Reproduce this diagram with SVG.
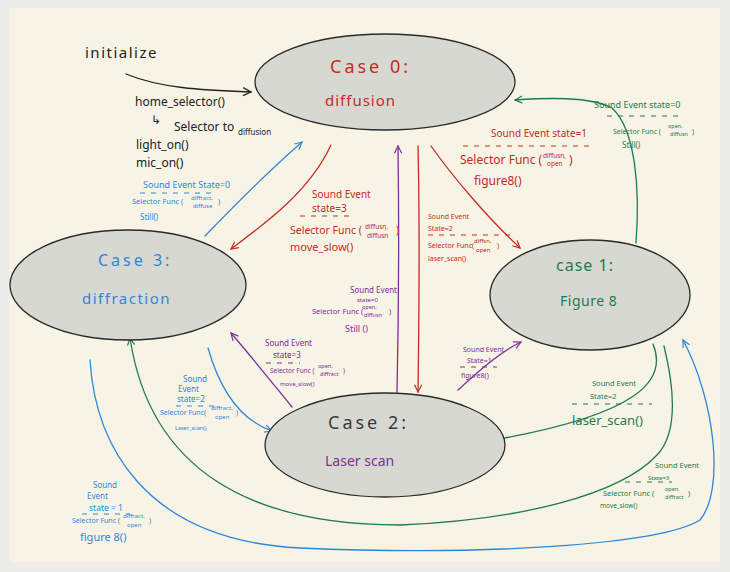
<svg xmlns="http://www.w3.org/2000/svg" width="730" height="572" viewBox="0 0 730 572">
<defs>
<style>
text{font-family:"Noto Sans","Liberation Sans",sans-serif;}
.st{fill:#d8d8d2;stroke:#2a2a2a;stroke-width:1.3;}
.c{fill:none;stroke-width:1.3;stroke-linecap:round;}
.r{stroke:#c62a24;} .b{stroke:#2f86d8;} .g{stroke:#1f7a4e;} .p{stroke:#7d2d9c;} .k{stroke:#222;}
.tr{fill:#c62a24;} .tb{fill:#2f86d8;} .tg{fill:#1f7a4e;} .tp{fill:#7d2d9c;} .tk{fill:#222;}
.d{fill:none;stroke-width:1;stroke-dasharray:5 6;}
</style>
<marker id="ar" viewBox="0 0 10 10" refX="9" refY="5" markerWidth="9" markerHeight="9" orient="auto" markerUnits="userSpaceOnUse"><path d="M1,1 L9,5 L1,9" fill="none" stroke="#c62a24" stroke-width="1.3"/></marker>
<marker id="ab" viewBox="0 0 10 10" refX="9" refY="5" markerWidth="9" markerHeight="9" orient="auto" markerUnits="userSpaceOnUse"><path d="M1,1 L9,5 L1,9" fill="none" stroke="#2f86d8" stroke-width="1.3"/></marker>
<marker id="ag" viewBox="0 0 10 10" refX="9" refY="5" markerWidth="9" markerHeight="9" orient="auto" markerUnits="userSpaceOnUse"><path d="M1,1 L9,5 L1,9" fill="none" stroke="#1f7a4e" stroke-width="1.3"/></marker>
<marker id="ap" viewBox="0 0 10 10" refX="9" refY="5" markerWidth="9" markerHeight="9" orient="auto" markerUnits="userSpaceOnUse"><path d="M1,1 L9,5 L1,9" fill="none" stroke="#7d2d9c" stroke-width="1.3"/></marker>
<marker id="ak" viewBox="0 0 10 10" refX="9" refY="5" markerWidth="10" markerHeight="10" orient="auto" markerUnits="userSpaceOnUse"><path d="M1,1 L9,5 L1,9" fill="none" stroke="#222" stroke-width="1.3"/></marker>
</defs>
<rect x="0" y="0" width="730" height="572" fill="#ececea"/>
<rect x="10" y="8" width="710" height="554" fill="#f7f4e6"/>

<g id="connectors">
<path class="c k" d="M126,74 C160,88 200,90 251,92" marker-end="url(#ak)"/>
<path class="c r" d="M331,145 C310,190 270,220 231,249" marker-end="url(#ar)"/>
<path class="c r" d="M431,146 C455,180 490,220 520,248" marker-end="url(#ar)"/>
<path class="c r" d="M418,146 C420,230 419,320 418,392" marker-end="url(#ar)"/>
<path class="c p" d="M397,392 C399,300 399,220 398,146" marker-end="url(#ap)"/>
<path class="c p" d="M292,407 C270,380 250,355 231,333" marker-end="url(#ap)"/>
<path class="c p" d="M458,390 C480,370 500,352 521,342" marker-end="url(#ap)"/>
<path class="c g" d="M636,243 C640,190 636,130 612,108 C590,96 545,98 515,100" marker-end="url(#ag)"/>
<path class="c g" d="M653,344 C668,380 640,415 488,441" marker-end="url(#ag)"/>
<path class="c g" d="M664,346 C676,395 676,435 657,455 C620,495 520,520 400,525 C250,525 150,470 130,338" marker-end="url(#ag)"/>
<path class="c b" d="M205,236 C230,210 270,170 302,142" marker-end="url(#ab)"/>
<path class="c b" d="M208,348 C220,390 240,420 272,431" marker-end="url(#ab)"/>
<path class="c b" d="M90,360 C95,440 140,540 300,548 C480,556 660,545 700,520 C725,490 715,400 683,340" marker-end="url(#ab)"/>
</g>

<g id="case0">
<ellipse class="st" cx="385" cy="82" rx="130" ry="48"/>
<text x="330" y="73" font-size="18" letter-spacing="3" class="tr">Case 0:</text>
<text x="325" y="106" font-size="15" letter-spacing="1" class="tr">diffusion</text>
</g>
<g id="case3">
<ellipse class="st" cx="128" cy="285" rx="118" ry="55"/>
<text x="98" y="266" font-size="16" letter-spacing="3" class="tb">Case 3:</text>
<text x="82" y="304" font-size="15" letter-spacing="1.5" class="tb">diffraction</text>
</g>
<g id="case1">
<ellipse class="st" cx="590" cy="295" rx="100" ry="55"/>
<text x="556" y="271" font-size="16" letter-spacing="1" class="tg">case 1:</text>
<text x="560" y="306" font-size="14" letter-spacing="0.5" class="tg">Figure 8</text>
</g>
<g id="case2">
<ellipse class="st" cx="385" cy="445" rx="120" ry="52"/>
<text x="328" y="429" font-size="18" letter-spacing="3" fill="#3a3a3a">Case 2:</text>
<text x="325" y="466" font-size="14" class="tp">Laser scan</text>
</g>

<g id="init">
<text x="85" y="58" font-size="15" letter-spacing="1.5" class="tk">initialize</text>
<text x="135" y="106" font-size="12" class="tk">home_selector()</text>
<text x="151" y="124" font-size="12" class="tk">↳</text>
<text x="174" y="131" font-size="12" class="tk">Selector to</text>
<text x="238" y="135" font-size="8" class="tk">diffusion</text>
<text x="136" y="149" font-size="12" class="tk">light_on()</text>
<text x="136" y="167" font-size="12" class="tk">mic_on()</text>
</g>

<g id="labels">
<!-- red 0->1 -->
<text x="491" y="137" font-size="10" class="tr">Sound Event  state=1</text>
<line x1="463" y1="146" x2="590" y2="146" class="d r"/>
<text x="460" y="164" font-size="12" class="tr">Selector Func (</text>
<text x="543" y="158" font-size="6.5" class="tr">diffusn,</text>
<text x="547" y="166" font-size="6.5" class="tr">open</text>
<text x="569" y="164" font-size="12" class="tr">)</text>
<text x="474" y="185" font-size="12" class="tr">figure8()</text>
<!-- red 0->3 -->
<text x="312" y="198" font-size="10" class="tr">Sound Event</text>
<text x="312" y="212" font-size="10" class="tr">state=3</text>
<line x1="300" y1="216" x2="350" y2="216" class="d r"/>
<text x="290" y="234" font-size="10.5" class="tr">Selector Func (</text>
<text x="365" y="229" font-size="6.5" class="tr">diffusn,</text>
<text x="367" y="238" font-size="6.5" class="tr">diffusn</text>
<text x="396" y="234" font-size="10.5" class="tr">)</text>
<text x="290" y="251" font-size="11" class="tr">move_slow()</text>
<!-- red 0->2 -->
<text x="428" y="219" font-size="7" class="tr">Sound Event</text>
<text x="428" y="231" font-size="7" class="tr">State=2</text>
<line x1="428" y1="235" x2="512" y2="235" class="d r"/>
<text x="428" y="248" font-size="7" class="tr">Selector Func(</text>
<text x="474" y="243" font-size="6" class="tr">diffsn,</text>
<text x="476" y="252" font-size="6" class="tr">open</text>
<text x="497" y="248" font-size="7" class="tr">)</text>
<text x="428" y="261" font-size="7" class="tr">laser_scan()</text>
<!-- green 1->0 -->
<text x="594" y="108" font-size="9" class="tg">Sound Event  state=0</text>
<line x1="607" y1="116" x2="680" y2="116" class="d g"/>
<text x="613" y="134" font-size="7" class="tg">Selector Func (</text>
<text x="668" y="128" font-size="5.5" class="tg">open,</text>
<text x="670" y="136" font-size="5.5" class="tg">diffusn</text>
<text x="692" y="134" font-size="7" class="tg">)</text>
<text x="622" y="148" font-size="8" class="tg">Still()</text>
<!-- green 1->2 -->
<text x="592" y="386" font-size="7.5" class="tg">Sound Event</text>
<text x="590" y="399" font-size="7.5" class="tg">State=2</text>
<line x1="572" y1="404" x2="652" y2="404" class="d g"/>
<text x="572" y="425" font-size="13" class="tg">laser_scan()</text>
<!-- green 1->3 -->
<text x="655" y="468" font-size="7.5" class="tg">Sound Event</text>
<text x="648" y="480" font-size="6" class="tg">State=3</text>
<line x1="625" y1="482" x2="672" y2="482" class="d g"/>
<text x="603" y="496" font-size="7.5" class="tg">Selector Func (</text>
<text x="665" y="491" font-size="5.5" class="tg">open,</text>
<text x="665" y="499" font-size="5.5" class="tg">diffract</text>
<text x="688" y="496" font-size="7.5" class="tg">)</text>
<text x="600" y="508" font-size="6.5" class="tg">move_slow()</text>
<!-- blue 3->0 -->
<text x="143" y="188" font-size="9" class="tb">Sound Event  State=0</text>
<line x1="140" y1="193" x2="215" y2="193" class="d b"/>
<text x="132" y="204" font-size="7.5" class="tb">Selector Func (</text>
<text x="191" y="200" font-size="6" class="tb">diffract,</text>
<text x="193" y="208" font-size="6" class="tb">diffuse</text>
<text x="218" y="204" font-size="7.5" class="tb">)</text>
<text x="140" y="220" font-size="8" class="tb">Still()</text>
<!-- blue 3->2 -->
<text x="183" y="382" font-size="8" class="tb">Sound</text>
<text x="178" y="392" font-size="8" class="tb">Event</text>
<text x="177" y="402" font-size="8" class="tb">state=2</text>
<line x1="176" y1="406" x2="216" y2="406" class="d b"/>
<text x="160" y="415" font-size="7" class="tb">Selector Func(</text>
<text x="211" y="410" font-size="6" class="tb">diffract,</text>
<text x="215" y="419" font-size="6" class="tb">open</text>
<text x="236" y="415" font-size="7" class="tb">)</text>
<text x="175" y="430" font-size="5.5" class="tb">Laser_scan()</text>
<!-- blue 3->1 -->
<text x="93" y="488" font-size="8" class="tb">Sound</text>
<text x="87" y="499" font-size="8" class="tb">Event</text>
<text x="89" y="511" font-size="8.5" class="tb">state = 1</text>
<line x1="82" y1="514" x2="130" y2="514" class="d b"/>
<text x="72" y="523" font-size="7" class="tb">Selector Func (</text>
<text x="123" y="518" font-size="6" class="tb">diffract,</text>
<text x="127" y="527" font-size="6" class="tb">open</text>
<text x="149" y="523" font-size="7" class="tb">)</text>
<text x="80" y="541" font-size="11" class="tb">figure 8()</text>
<!-- purple 2->0 -->
<text x="350" y="293" font-size="8" class="tp">Sound Event</text>
<text x="357" y="302" font-size="6" class="tp">state=0</text>
<text x="312" y="314" font-size="7.5" class="tp">Selector Func (</text>
<text x="362" y="309" font-size="5.5" class="tp">open,</text>
<text x="364" y="317" font-size="5.5" class="tp">diffusn</text>
<text x="389" y="314" font-size="7.5" class="tp">)</text>
<text x="345" y="332" font-size="9" class="tp">Still ()</text>
<!-- purple 2->3 -->
<text x="265" y="346" font-size="8" class="tp">Sound Event</text>
<text x="273" y="358" font-size="8" class="tp">state=3</text>
<line x1="266" y1="363" x2="300" y2="363" class="d p"/>
<text x="270" y="373" font-size="6.5" class="tp">Selector Func (</text>
<text x="318" y="368" font-size="5.5" class="tp">open,</text>
<text x="320" y="376" font-size="5.5" class="tp">diffract</text>
<text x="343" y="373" font-size="6.5" class="tp">)</text>
<text x="280" y="386" font-size="6" class="tp">move_slow()</text>
<!-- purple 2->1 -->
<text x="463" y="352" font-size="7" class="tp">Sound Event</text>
<text x="467" y="363" font-size="7" class="tp">State=1</text>
<line x1="460" y1="367" x2="497" y2="367" class="d p"/>
<text x="461" y="378" font-size="7" class="tp">figure8()</text>
</g>
</svg>
